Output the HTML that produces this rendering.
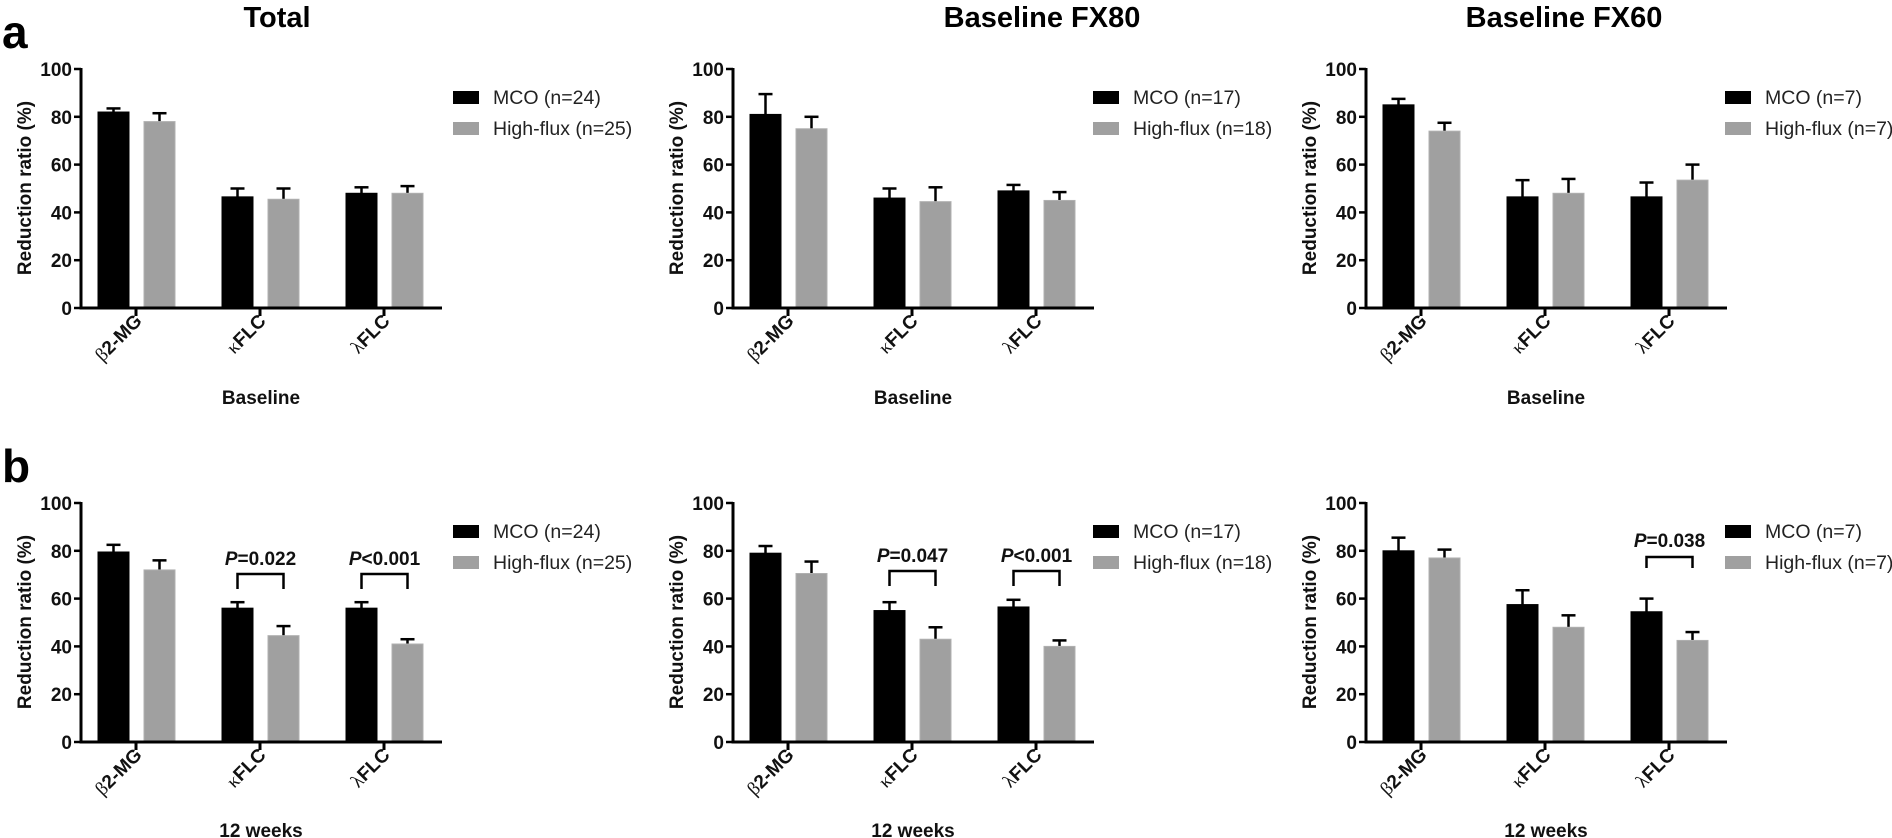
<!DOCTYPE html>
<html><head><meta charset="utf-8"><style>
body{margin:0;background:#fff}
svg{display:block;font-family:"Liberation Sans",Arial,sans-serif}
.t{font-size:19px;font-weight:bold;fill:#111}
.lg{font-size:19.5px;fill:#222}
.g{font-family:"Liberation Serif",serif;font-weight:normal}
</style></head><body>
<svg id="s" width="1892" height="838" viewBox="0 0 1892 838" xmlns="http://www.w3.org/2000/svg">
<text x="2" y="48" font-size="46" font-weight="bold">a</text>
<text x="2" y="482" font-size="46" font-weight="bold">b</text>
<text x="277" y="27" font-size="29" font-weight="bold" text-anchor="middle">Total</text>
<text x="1042" y="27" font-size="29" font-weight="bold" text-anchor="middle">Baseline FX80</text>
<text x="1564" y="27" font-size="29" font-weight="bold" text-anchor="middle">Baseline FX60</text>

<!-- legends -->
<g>
<rect x="453" y="91" width="26" height="13" fill="#000"/><rect x="453" y="122" width="26" height="13" fill="#a0a0a0"/>
<text class="lg" x="493" y="104">MCO (n=24)</text><text class="lg" x="493" y="135">High-flux (n=25)</text>
<rect x="1093" y="91" width="26" height="13" fill="#000"/><rect x="1093" y="122" width="26" height="13" fill="#a0a0a0"/>
<text class="lg" x="1133" y="104">MCO (n=17)</text><text class="lg" x="1133" y="135">High-flux (n=18)</text>
<rect x="1725" y="91" width="26" height="13" fill="#000"/><rect x="1725" y="122" width="26" height="13" fill="#a0a0a0"/>
<text class="lg" x="1765" y="104">MCO (n=7)</text><text class="lg" x="1765" y="135">High-flux (n=7)</text>
<rect x="453" y="525" width="26" height="13" fill="#000"/><rect x="453" y="556" width="26" height="13" fill="#a0a0a0"/>
<text class="lg" x="493" y="538">MCO (n=24)</text><text class="lg" x="493" y="569">High-flux (n=25)</text>
<rect x="1093" y="525" width="26" height="13" fill="#000"/><rect x="1093" y="556" width="26" height="13" fill="#a0a0a0"/>
<text class="lg" x="1133" y="538">MCO (n=17)</text><text class="lg" x="1133" y="569">High-flux (n=18)</text>
<rect x="1725" y="525" width="26" height="13" fill="#000"/><rect x="1725" y="556" width="26" height="13" fill="#a0a0a0"/>
<text class="lg" x="1765" y="538">MCO (n=7)</text><text class="lg" x="1765" y="569">High-flux (n=7)</text>
</g>

<!-- panel text: row a -->
<g transform="translate(81,308)" class="t">
<text x="-9" y="7" text-anchor="end">0</text><text x="-9" y="-40.8" text-anchor="end">20</text><text x="-9" y="-88.6" text-anchor="end">40</text><text x="-9" y="-136.4" text-anchor="end">60</text><text x="-9" y="-184.2" text-anchor="end">80</text><text x="-9" y="-232" text-anchor="end">100</text>
<text transform="translate(-50,-120) rotate(-90)" text-anchor="middle">Reduction ratio (%)</text>
<text transform="translate(62,14) rotate(-45)" text-anchor="end"><tspan class="g">β</tspan>2-MG</text>
<text transform="translate(186,14) rotate(-45)" text-anchor="end"><tspan class="g">κ</tspan>FLC</text>
<text transform="translate(310,14) rotate(-45)" text-anchor="end"><tspan class="g">λ</tspan>FLC</text>
<text x="180" y="96" text-anchor="middle">Baseline</text>
</g>
<g transform="translate(733,308)" class="t">
<text x="-9" y="7" text-anchor="end">0</text><text x="-9" y="-40.8" text-anchor="end">20</text><text x="-9" y="-88.6" text-anchor="end">40</text><text x="-9" y="-136.4" text-anchor="end">60</text><text x="-9" y="-184.2" text-anchor="end">80</text><text x="-9" y="-232" text-anchor="end">100</text>
<text transform="translate(-50,-120) rotate(-90)" text-anchor="middle">Reduction ratio (%)</text>
<text transform="translate(62,14) rotate(-45)" text-anchor="end"><tspan class="g">β</tspan>2-MG</text>
<text transform="translate(186,14) rotate(-45)" text-anchor="end"><tspan class="g">κ</tspan>FLC</text>
<text transform="translate(310,14) rotate(-45)" text-anchor="end"><tspan class="g">λ</tspan>FLC</text>
<text x="180" y="96" text-anchor="middle">Baseline</text>
</g>
<g transform="translate(1366,308)" class="t">
<text x="-9" y="7" text-anchor="end">0</text><text x="-9" y="-40.8" text-anchor="end">20</text><text x="-9" y="-88.6" text-anchor="end">40</text><text x="-9" y="-136.4" text-anchor="end">60</text><text x="-9" y="-184.2" text-anchor="end">80</text><text x="-9" y="-232" text-anchor="end">100</text>
<text transform="translate(-50,-120) rotate(-90)" text-anchor="middle">Reduction ratio (%)</text>
<text transform="translate(62,14) rotate(-45)" text-anchor="end"><tspan class="g">β</tspan>2-MG</text>
<text transform="translate(186,14) rotate(-45)" text-anchor="end"><tspan class="g">κ</tspan>FLC</text>
<text transform="translate(310,14) rotate(-45)" text-anchor="end"><tspan class="g">λ</tspan>FLC</text>
<text x="180" y="96" text-anchor="middle">Baseline</text>
</g>
<!-- row b -->
<g transform="translate(81,742)" class="t">
<text x="-9" y="7" text-anchor="end">0</text><text x="-9" y="-40.8" text-anchor="end">20</text><text x="-9" y="-88.6" text-anchor="end">40</text><text x="-9" y="-136.4" text-anchor="end">60</text><text x="-9" y="-184.2" text-anchor="end">80</text><text x="-9" y="-232" text-anchor="end">100</text>
<text transform="translate(-50,-120) rotate(-90)" text-anchor="middle">Reduction ratio (%)</text>
<text transform="translate(62,14) rotate(-45)" text-anchor="end"><tspan class="g">β</tspan>2-MG</text>
<text transform="translate(186,14) rotate(-45)" text-anchor="end"><tspan class="g">κ</tspan>FLC</text>
<text transform="translate(310,14) rotate(-45)" text-anchor="end"><tspan class="g">λ</tspan>FLC</text>
<text x="180" y="95" text-anchor="middle">12 weeks</text>
<text x="179.5" y="-177" text-anchor="middle"><tspan font-style="italic">P</tspan>=0.022</text>
<text x="303.5" y="-177" text-anchor="middle"><tspan font-style="italic">P</tspan>&lt;0.001</text>
</g>
<g transform="translate(733,742)" class="t">
<text x="-9" y="7" text-anchor="end">0</text><text x="-9" y="-40.8" text-anchor="end">20</text><text x="-9" y="-88.6" text-anchor="end">40</text><text x="-9" y="-136.4" text-anchor="end">60</text><text x="-9" y="-184.2" text-anchor="end">80</text><text x="-9" y="-232" text-anchor="end">100</text>
<text transform="translate(-50,-120) rotate(-90)" text-anchor="middle">Reduction ratio (%)</text>
<text transform="translate(62,14) rotate(-45)" text-anchor="end"><tspan class="g">β</tspan>2-MG</text>
<text transform="translate(186,14) rotate(-45)" text-anchor="end"><tspan class="g">κ</tspan>FLC</text>
<text transform="translate(310,14) rotate(-45)" text-anchor="end"><tspan class="g">λ</tspan>FLC</text>
<text x="180" y="95" text-anchor="middle">12 weeks</text>
<text x="179.5" y="-180" text-anchor="middle"><tspan font-style="italic">P</tspan>=0.047</text>
<text x="303.5" y="-180" text-anchor="middle"><tspan font-style="italic">P</tspan>&lt;0.001</text>
</g>
<g transform="translate(1366,742)" class="t">
<text x="-9" y="7" text-anchor="end">0</text><text x="-9" y="-40.8" text-anchor="end">20</text><text x="-9" y="-88.6" text-anchor="end">40</text><text x="-9" y="-136.4" text-anchor="end">60</text><text x="-9" y="-184.2" text-anchor="end">80</text><text x="-9" y="-232" text-anchor="end">100</text>
<text transform="translate(-50,-120) rotate(-90)" text-anchor="middle">Reduction ratio (%)</text>
<text transform="translate(62,14) rotate(-45)" text-anchor="end"><tspan class="g">β</tspan>2-MG</text>
<text transform="translate(186,14) rotate(-45)" text-anchor="end"><tspan class="g">κ</tspan>FLC</text>
<text transform="translate(310,14) rotate(-45)" text-anchor="end"><tspan class="g">λ</tspan>FLC</text>
<text x="180" y="95" text-anchor="middle">12 weeks</text>
<text x="303.5" y="-195" text-anchor="middle"><tspan font-style="italic">P</tspan>=0.038</text>
</g>
</svg>
<script>
var NS="http://www.w3.org/2000/svg",s=document.getElementById("s");
function el(t,a,p){var e=document.createElementNS(NS,t);for(var k in a)e.setAttribute(k,a[k]);p.appendChild(e);return e;}
var panels=[
[81,308,[[82,1.5],[78,3.5],[46.5,3.5],[45.5,4.5],[48,2.5],[48,3]],[]],
[733,308,[[81,8.5],[75,5],[46,4],[44.5,6],[49,2.5],[45,3.5]],[]],
[1366,308,[[85,2.5],[74,3.5],[46.5,7],[48,6],[46.5,6],[53.5,6.5]],[]],
[81,742,[[79.5,3],[72,4],[56,2.5],[44.5,4],[56,2.5],[41,2]],[[1,168,153],[2,168,153]]],
[733,742,[[79,3],[70.5,5],[55,3.5],[43,5],[56.5,3],[40,2.5]],[[1,171,156],[2,171,156]]],
[1366,742,[[80,5.5],[77,3.5],[57.5,6],[48,5],[54.5,5.5],[42.5,3.5]],[[2,185,174]]]];
var K=2.39;
panels.forEach(function(p){
 var g=el("g",{transform:"translate("+p[0]+","+p[1]+")"},s);
 p[2].forEach(function(d,i){
  var grp=Math.floor(i/2),gr=i%2,x=17+grp*124+gr*46,c=x+15.5,h=d[0]*K,t=(d[0]+d[1])*K;
  el("line",{x1:c,x2:c,y1:-h,y2:-t,stroke:"#000","stroke-width":2.5},g);
  el("line",{x1:c-7,x2:c+7,y1:-t,y2:-t,stroke:"#000","stroke-width":2.5},g);
  el("rect",{x:x,y:-h,width:31,height:h,fill:gr?"#a0a0a0":"#000",stroke:gr?"#b0b0b0":"#000","stroke-width":1},g);
 });
 el("line",{x1:0,x2:0,y1:0,y2:-240,stroke:"#000","stroke-width":3},g);
 el("line",{x1:-1.5,x2:361,y1:0,y2:0,stroke:"#000","stroke-width":3},g);
 for(var v=0;v<=100;v+=20)el("line",{x1:-7,x2:0,y1:-v*K,y2:-v*K,stroke:"#000","stroke-width":2.5},g);
 for(var j=0;j<3;j++)el("line",{x1:55+j*124,x2:55+j*124,y1:0,y2:8,stroke:"#000","stroke-width":3},g);
 p[3].forEach(function(b){var a=32.5+b[0]*124,e=a+46;
  el("path",{d:"M"+a+" "+(-b[2])+"V"+(-b[1])+"H"+e+"V"+(-b[2]),fill:"none",stroke:"#000","stroke-width":2.5},g);});
});
</script>
</body></html>
